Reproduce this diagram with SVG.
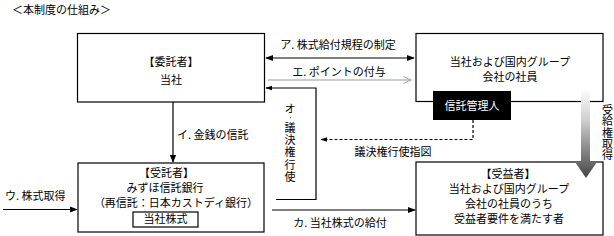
<svg xmlns="http://www.w3.org/2000/svg" width="614" height="236" viewBox="0 0 614 236">
<style>
text{font-family:"Noto Sans CJK JP","Noto Sans",sans-serif;font-size:11px;fill:#000}
.c{text-anchor:middle}
.v{writing-mode:vertical-rl}
.box{fill:#fff;stroke:#000;stroke-width:1.2}
.ln{fill:none;stroke:#000;stroke-width:1.2}
</style>
<defs>
<marker id="ah" viewBox="0 0 10 10" refX="9" refY="5" markerWidth="8" markerHeight="8" markerUnits="userSpaceOnUse" orient="auto-start-reverse">
<path d="M0,1 L10,5 L0,9 Z" fill="#000"/>
</marker>
<marker id="ahs" viewBox="0 0 10 10" refX="9" refY="5" markerWidth="7" markerHeight="7" markerUnits="userSpaceOnUse" orient="auto-start-reverse">
<path d="M0,1.5 L10,5 L0,8.5 Z" fill="#000"/>
</marker>
<marker id="open" viewBox="0 0 10 10" refX="9.5" refY="5" markerWidth="9" markerHeight="9" markerUnits="userSpaceOnUse" orient="auto">
<path d="M1,1 L9.5,5 L1,9" fill="none" stroke="#999" stroke-width="1"/>
</marker>
<linearGradient id="gr" gradientUnits="userSpaceOnUse" x1="0" y1="88" x2="0" y2="178">
<stop offset="0" stop-color="#ffffff"/>
<stop offset="0.35" stop-color="#d0d0d0"/>
<stop offset="1" stop-color="#444444"/>
</linearGradient>
</defs>
<text x="12" y="14">＜本制度の仕組み＞</text>
<g id="itakusha">
<rect class="box" x="77.5" y="33.5" width="187" height="68.5"/>
<text class="c" x="171" y="66">【委託者】</text>
<text class="c" x="171" y="84">当社</text>
</g>
<g id="shain">
<rect class="box" x="416" y="33.5" width="187" height="68"/>
<text class="c" x="510" y="66">当社および国内グループ</text>
<text class="c" x="510" y="81">会社の社員</text>
</g>
<g id="kanrinin">
<rect x="433" y="91" width="78" height="29" fill="#000"/>
<text class="c" x="472" y="110" style="fill:#fff">信託管理人</text>
</g>
<g id="jutakusha">
<rect class="box" x="78" y="163" width="186" height="69"/>
<text class="c" x="166.5" y="176.5">【受託者】</text>
<text class="c" x="165" y="191.5">みずほ信託銀行</text>
<text class="c" x="176" y="206.5">（再信託：日本カストディ銀行）</text>
<rect class="box" x="133" y="212" width="65" height="15"/>
<text class="c" x="165.5" y="223">当社株式</text>
</g>
<g id="juekisha">
<rect class="box" x="416" y="162" width="187" height="73"/>
<text class="c" x="508" y="178">【受益者】</text>
<text class="c" x="509" y="193">当社および国内グループ</text>
<text class="c" x="509" y="208">会社の社員のうち</text>
<text class="c" x="509" y="223">受益者要件を満たす者</text>
</g>
<g id="connectors">
<line class="ln" x1="266" y1="58" x2="414" y2="58" stroke-width="2" marker-start="url(#ah)" marker-end="url(#ah)"/>
<line x1="268" y1="80" x2="411" y2="80" stroke="#999" stroke-width="1" marker-end="url(#open)"/>
<path class="ln" d="M276,199.5 H316 V88 H266" marker-end="url(#ahs)"/>
<line class="ln" x1="173" y1="102" x2="173" y2="162" marker-end="url(#ah)"/>
<line class="ln" x1="3" y1="209.5" x2="77" y2="209.5" marker-end="url(#ah)"/>
<line class="ln" x1="272" y1="210" x2="415" y2="210" marker-end="url(#ah)"/>
<path d="M473,120 V139.5 H321" fill="none" stroke="#000" stroke-width="1.2" stroke-dasharray="3,2" marker-end="url(#ahs)"/>
<path d="M581,90 H590 V162 H597 L586,178 L575,162 H581 Z" fill="url(#gr)"/>
<text class="c" x="338" y="49">ア. 株式給付規程の制定</text>
<text class="c" x="339" y="76">エ. ポイントの付与</text>
<text x="177" y="139">イ. 金銭の信託</text>
<text x="5" y="200">ウ. 株式取得</text>
<text class="c" x="340" y="227">カ. 当社株式の給付</text>
<text class="c" x="393" y="155.5">議決権行使指図</text>
<text x="284.5" y="113">オ<tspan x="289.5" y="118" font-size="8">.</tspan></text>
<text class="v" x="290" y="122" letter-spacing="1.4">議決権行使</text>
<text class="v" x="607.5" y="104.5" letter-spacing="0.25">受給権取得</text>
</g>
</svg>
